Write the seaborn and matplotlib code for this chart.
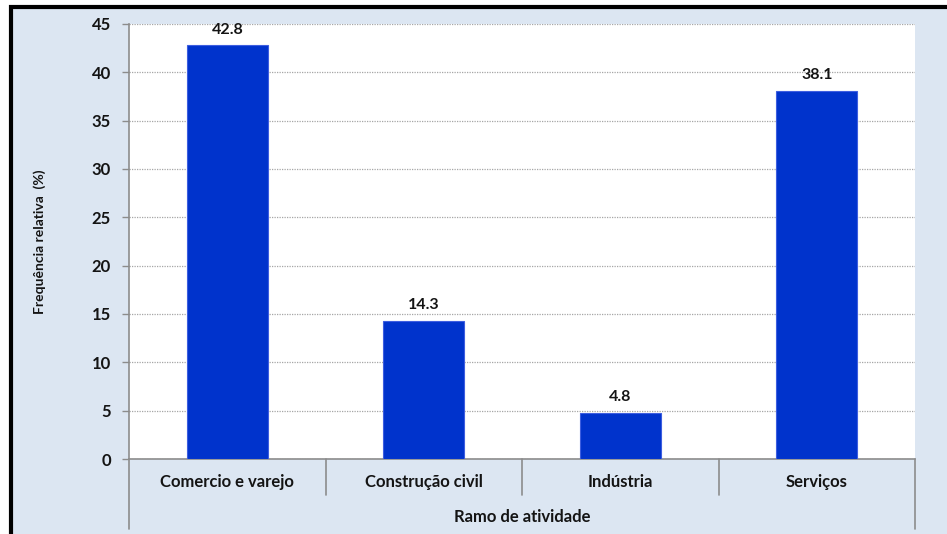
import matplotlib
matplotlib.use("Agg")
import matplotlib.pyplot as plt
from matplotlib.patches import Rectangle
import seaborn as sns
import pandas as pd

categorias = ["Comercio e varejo", "Construção civil", "Indústria", "Serviços"]
frequencias = [42.8, 14.3, 4.8, 38.1]
y_ticks = [0, 5, 10, 15, 20, 25, 30, 35, 40, 45]

sns.set_theme(style="white")
plt.rcParams["font.family"] = ["Lato", "DejaVu Sans"]
plt.rcParams["font.weight"] = "bold"

bg = "#dce6f2"
bar_color = "#0033cc"
grey = "#8c8c8c"
txt = "#141414"

fig = plt.figure(figsize=(9.47, 5.34), dpi=100)
fig.patch.set_facecolor("white")
# framed chart background
fig.patches.append(Rectangle((10.5 / 947, -0.2), 1.2, 0.2 + (1 - 6.5 / 534),
                             transform=fig.transFigure, facecolor=bg,
                             edgecolor="black", linewidth=3, zorder=-10))

ax = fig.add_axes([129 / 947, 1 - 459 / 534, (915 - 129) / 947, (459 - 24) / 534])
ax.set_facecolor("white")

df = pd.DataFrame({"Ramo": categorias, "Freq": frequencias})
sns.barplot(data=df, x="Ramo", y="Freq", color=bar_color, width=0.41,
            edgecolor="#3d5ee0", linewidth=0.8, saturation=1, ax=ax, zorder=3)

ax.set_xlim(-0.5, 3.5)
ax.set_ylim(0, 45)
ax.set_yticks(y_ticks)
ax.set_yticklabels([str(t) for t in y_ticks], fontsize=12, fontweight="bold", color=txt)
ax.yaxis.grid(True, color="#a6a6a6", linestyle=(0, (1, 1)), linewidth=0.9, zorder=0)
ax.set_axisbelow(True)
ax.tick_params(axis="y", which="major", left=True, length=5, width=1, color=grey, pad=8)
ax.tick_params(axis="x", bottom=False, labelbottom=False)

for side in ["top", "right"]:
    ax.spines[side].set_visible(False)
for side in ["left", "bottom"]:
    ax.spines[side].set_color(grey)
    ax.spines[side].set_linewidth(1.2)

ax.set_xlabel("")
ax.set_ylabel("Frequência relativa  (%)", fontsize=10, fontweight="bold",
              color=txt, labelpad=33)

# value labels
for i, v in enumerate(frequencias):
    ax.annotate(f"{v:.1f}", (i, v), xytext=(0, 6), textcoords="offset points",
                ha="center", va="bottom", fontsize=11.5, fontweight="bold", color=txt)

# category labels and separators below the axis
trans = ax.get_xaxis_transform()
h_axes = 435.0
for i, c in enumerate(categorias):
    ax.text(i, -23 / h_axes, c, transform=trans, ha="center", va="center",
            fontsize=12, fontweight="bold", color=txt, clip_on=False)
for b in [-0.5, 0.5, 1.5, 2.5, 3.5]:
    low = -70 / h_axes if b in (-0.5, 3.5) else -36 / h_axes
    ax.plot([b, b], [0, low], transform=trans, color=grey, linewidth=1.2, clip_on=False)
ax.text(1.5, -58 / h_axes, "Ramo de atividade", transform=trans, ha="center", va="center",
        fontsize=12, fontweight="bold", color=txt, clip_on=False)

fig.savefig("out.png", dpi=100, facecolor=fig.get_facecolor())
